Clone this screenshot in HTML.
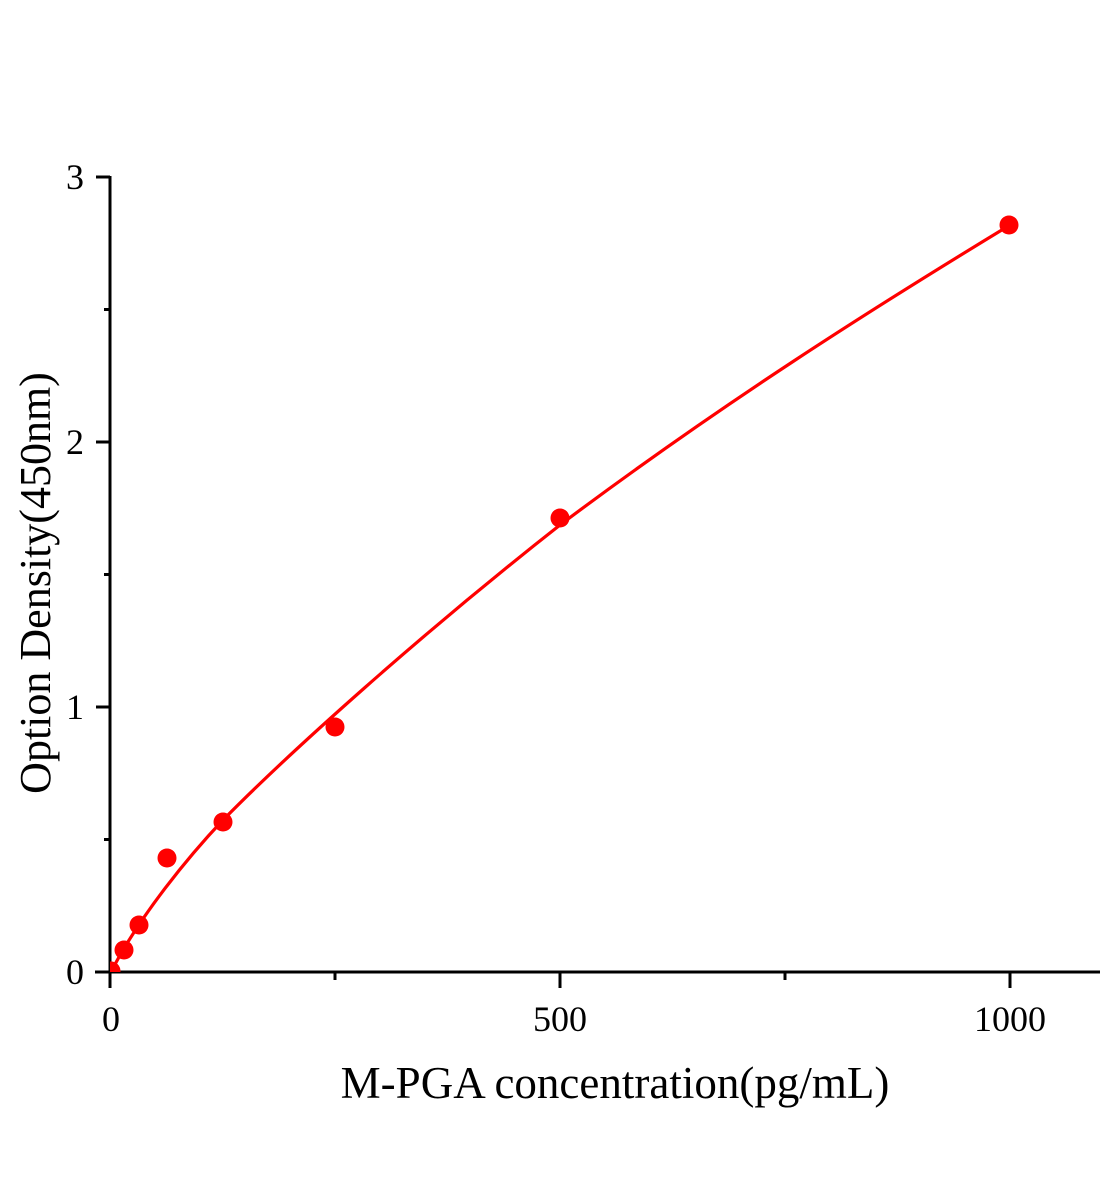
<!DOCTYPE html>
<html><head><meta charset="utf-8"><style>
html,body{margin:0;padding:0;background:#fff;}
svg{display:block;}
text{font-family:"Liberation Serif",serif;fill:#000;}
</style></head><body>
<svg width="1104" height="1200" viewBox="0 0 1104 1200">
<defs><clipPath id="c"><rect x="110" y="150" width="994" height="822"/></clipPath></defs>
<g stroke="#000" stroke-width="3" fill="none">
<line x1="110" y1="176" x2="110" y2="988"/>
<line x1="95" y1="972" x2="1100" y2="972"/>
<line x1="96" y1="177" x2="110" y2="177"/>
<line x1="96" y1="442" x2="110" y2="442"/>
<line x1="96" y1="707" x2="110" y2="707"/>
<line x1="96" y1="972" x2="110" y2="972"/>
<line x1="104" y1="309.5" x2="110" y2="309.5"/>
<line x1="104" y1="574.5" x2="110" y2="574.5"/>
<line x1="104" y1="839.5" x2="110" y2="839.5"/>
<line x1="560" y1="972" x2="560" y2="988"/>
<line x1="1010" y1="972" x2="1010" y2="988"/>
<line x1="335" y1="972" x2="335" y2="980"/>
<line x1="785" y1="972" x2="785" y2="980"/>
</g>
<g font-size="36" text-anchor="end">
<text x="84" y="189">3</text>
<text x="84" y="454">2</text>
<text x="84" y="719">1</text>
<text x="84" y="984">0</text>
</g>
<g font-size="36" text-anchor="middle">
<text x="111" y="1031">0</text>
<text x="560" y="1031">500</text>
<text x="1010" y="1031">1000</text>
</g>
<text x="615" y="1098" font-size="45" text-anchor="middle">M-PGA concentration(pg/mL)</text>
<text transform="translate(50,583) rotate(-90)" font-size="44" text-anchor="middle">Option Density(450nm)</text>
<g clip-path="url(#c)">
<path d="M111,972 C140,915 190,855 223,820 C290,752 420,635 560,525 C720,405 870,310 1010,225" stroke="#f00" stroke-width="3.2" fill="none"/>
<g fill="#f00">
<circle cx="111" cy="971" r="9.5"/>
<circle cx="124" cy="950" r="9.5"/>
<circle cx="139" cy="925" r="9.5"/>
<circle cx="167" cy="858" r="9.5"/>
<circle cx="223" cy="822" r="9.5"/>
<circle cx="335" cy="727" r="9.5"/>
<circle cx="560" cy="518" r="9.5"/>
<circle cx="1009" cy="225" r="9.5"/>
</g>
</g>
</svg>
</body></html>
